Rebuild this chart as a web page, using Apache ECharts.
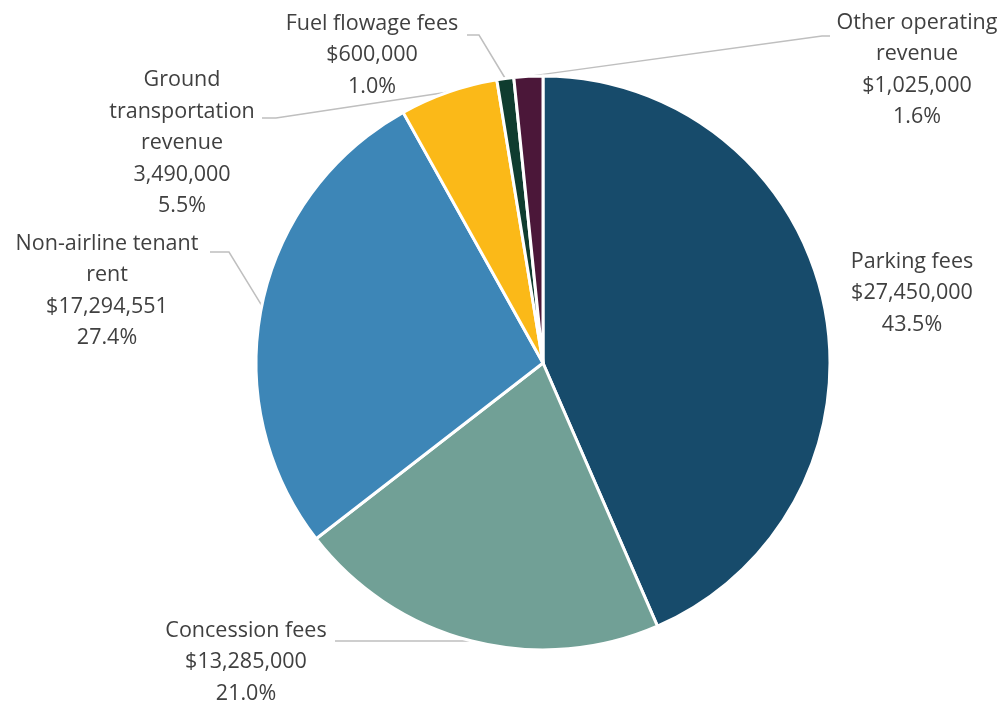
<!DOCTYPE html>
<html>
<head>
<meta charset="utf-8">
<title>Operating revenue breakdown</title>
<script src="https://cdn.jsdelivr.net/npm/echarts@6/dist/echarts.min.js"></script>
<style>
  html, body { margin: 0; padding: 0; background: #ffffff; }
  #chart { width: 1005px; height: 707px; }
</style>
</head>
<body>
<div id="chart"></div>
<script>
// Revenue sources, clockwise from 12 o'clock
const categories = [
  'Parking fees',
  'Concession fees',
  'Non-airline tenant\nrent',
  'Ground\ntransportation\nrevenue',
  'Fuel flowage fees',
  'Other operating\nrevenue'
];
const revenue = [27450000, 13285000, 17294551, 3490000, 600000, 1025000];
// currency sign shown in front of each amount
const currencyPrefix = ['$', '$', '$', '', '$', '$'];
const sliceColors = ['#174B6B', '#71A096', '#3D86B7', '#FBB918', '#0F3C2F', '#4B1739'];

// label block centres and leader-line elbows (layout only)
const labelCenters = [
  [912, 293], [246, 662], [107, 291], [182, 143], [372, 55], [917, 70]
];
const lineElbows = [
  null,
  [[400, 641], [335, 641]],
  [[229, 252], [210, 252]],
  [[276, 118], [262, 118]],
  [[479, 35], [467, 35]],
  [[822, 36], [830, 36]]
];

const total = revenue.reduce((a, b) => a + b, 0);
const fmt = n => n.toLocaleString('en-US');
const pct = v => (v / total * 100).toFixed(1) + '%';

const chart = echarts.init(document.getElementById('chart'), null, { renderer: 'canvas' });

chart.setOption({
  animation: false,
  backgroundColor: '#ffffff',
  series: [{
    type: 'pie',
    center: [543, 363],
    radius: 287,
    startAngle: 90,
    clockwise: true,
    avoidLabelOverlap: false,
    itemStyle: { borderColor: '#ffffff', borderWidth: 3 },
    label: {
      show: true,
      position: 'outside',
      width: 260,
      overflow: 'none',
      fontFamily: 'Open Sans',
      fontSize: 21.5,
      lineHeight: 31.5,
      color: '#404040',
      align: 'center',
      formatter: p => p.name + '\n' + currencyPrefix[p.dataIndex] + fmt(p.value) + '\n' + pct(p.value)
    },
    labelLine: {
      show: true,
      lineStyle: { color: '#BFBFBF', width: 1.5 }
    },
    labelLayout: params => {
      const i = params.dataIndex;
      const out = {
        x: labelCenters[i][0],
        y: labelCenters[i][1],
        align: 'center',
        verticalAlign: 'middle'
      };
      if (lineElbows[i] && params.labelLinePoints) {
        out.labelLinePoints = [params.labelLinePoints[0]].concat(lineElbows[i]);
      }
      return out;
    },
    data: categories.map((name, i) => ({
      name,
      value: revenue[i],
      itemStyle: { color: sliceColors[i] },
      labelLine: { show: lineElbows[i] !== null }
    }))
  }]
});
</script>
</body>
</html>
